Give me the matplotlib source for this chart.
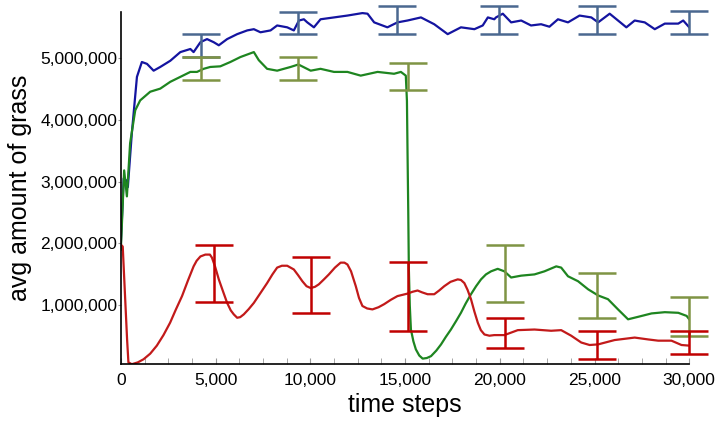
import matplotlib
matplotlib.use('Agg')
import matplotlib.pyplot as plt
from matplotlib.ticker import FuncFormatter, MultipleLocator

plt.rcParams['font.family'] = ['Liberation Sans', 'DejaVu Sans']

# blue run (values in millions)
blue_t = [0, 150, 280, 370, 580, 850, 1110, 1380, 1730, 2080, 2610, 3140, 3670, 3840,
          4200, 4550, 4900, 5170, 5610, 6140, 6670, 7020, 7370, 7900, 8250, 8780, 9130,
          9400, 9660, 9840, 10190, 10540, 11250, 11960, 12750, 13020, 13370, 14070,
          14600, 15130, 15840, 16540, 17250, 17950, 18660, 19100, 19370, 19710, 19800,
          20160, 20600, 21130, 21650, 22180, 22620, 23070, 23600, 24210, 24830, 25190,
          25800, 26240, 26680, 27120, 27650, 28180, 28710, 29420, 29680, 30000]
blue_v = [2.0, 3.05, 3.02, 2.91, 3.78, 4.69, 4.93, 4.90, 4.79, 4.85, 4.95, 5.09, 5.14, 5.09,
          5.25, 5.30, 5.25, 5.20, 5.30, 5.38, 5.44, 5.46, 5.41, 5.44, 5.52, 5.49, 5.44,
          5.60, 5.62, 5.57, 5.49, 5.62, 5.65, 5.68, 5.72, 5.71, 5.57, 5.49,
          5.57, 5.60, 5.65, 5.54, 5.38, 5.49, 5.46, 5.52, 5.65, 5.62, 5.65,
          5.71, 5.57, 5.60, 5.52, 5.54, 5.50, 5.62, 5.57, 5.68, 5.65, 5.57,
          5.71, 5.60, 5.49, 5.60, 5.57, 5.46, 5.55, 5.55, 5.60, 5.49]

# green run
green_t = [0, 175, 320, 490, 760, 1020, 1550, 2080, 2610, 3140, 3670, 4020, 4370, 4720,
           5250, 5780, 6310, 6840, 7020, 7280, 7720, 8250, 8960, 9370, 10020, 10540,
           11250, 11960, 12660, 13550, 14420, 14780, 15040, 15100, 15130, 15170, 15200,
           15250, 15310, 15440, 15570, 15750, 15930, 16150, 16370, 16650, 16900, 17150,
           17420, 17700, 17950, 18200, 18480, 18750, 19010, 19270, 19540, 19890, 20240,
           20600, 21130, 21830, 22360, 22980, 23240, 23600, 24130, 24660, 25190, 25710,
           26240, 26770, 27300, 28010, 28710, 29420, 29860, 30000]
green_v = [1.9, 3.18, 2.76, 3.62, 4.15, 4.31, 4.45, 4.50, 4.61, 4.69, 4.77, 4.77, 4.82, 4.85,
           4.86, 4.93, 5.01, 5.07, 5.09, 4.96, 4.82, 4.79, 4.85, 4.89, 4.79, 4.82,
           4.77, 4.77, 4.71, 4.77, 4.74, 4.77, 4.71, 4.3, 3.5, 2.5, 1.6,
           1.0, 0.61, 0.42, 0.29, 0.19, 0.14, 0.15, 0.18, 0.27, 0.37, 0.49,
           0.61, 0.75, 0.88, 1.03, 1.18, 1.31, 1.42, 1.50, 1.55, 1.59, 1.55,
           1.45, 1.48, 1.50, 1.55, 1.63, 1.61, 1.47, 1.39, 1.26, 1.16, 1.10,
           0.935, 0.775, 0.815, 0.87, 0.89, 0.88, 0.83, 0.775]

# red run
red_t = [0, 100, 230, 330, 400, 580, 900, 1200, 1550, 1900, 2250, 2600, 2900, 3230, 3540,
         3840, 4000, 4200, 4460, 4700, 4810, 4980, 5170, 5400, 5610, 5800, 5960, 6140,
         6300, 6490, 6750, 7020, 7370, 7720, 8000, 8250, 8500, 8780, 9130, 9350, 9580,
         9800, 10020, 10250, 10450, 10720, 10980, 11300, 11600, 11800, 11960, 12150,
         12400, 12570, 12750, 13000, 13280, 13600, 13900, 14250, 14600, 15130, 15400,
         15660, 15900, 16190, 16540, 16800, 17070, 17400, 17780, 17950, 18130, 18300,
         18480, 18660, 18840, 19000, 19190, 19450, 19710, 20240, 20950, 21830, 22710,
         23240, 23770, 24300, 24740, 25190, 26060, 27120, 27830, 28360, 29060, 29590, 30000]
red_v = [1.98, 1.95, 1.1, 0.45, 0.08, 0.05, 0.08, 0.13, 0.22, 0.35, 0.52, 0.72, 0.93, 1.15, 1.40,
         1.63, 1.72, 1.79, 1.82, 1.82, 1.77, 1.62, 1.42, 1.22, 1.04, 0.92, 0.855, 0.80,
         0.81, 0.855, 0.94, 1.04, 1.20, 1.36, 1.50, 1.61, 1.64, 1.64, 1.58, 1.49, 1.39,
         1.31, 1.28, 1.30, 1.34, 1.42, 1.50, 1.61, 1.69, 1.69, 1.66, 1.55,
         1.31, 1.12, 0.99, 0.95, 0.935, 0.97, 1.02, 1.09, 1.15, 1.19, 1.22,
         1.24, 1.21, 1.18, 1.18, 1.24, 1.31, 1.38, 1.42, 1.41, 1.36, 1.25,
         1.10, 0.90, 0.72, 0.60, 0.53, 0.51, 0.52, 0.52, 0.60, 0.61, 0.59,
         0.60, 0.51, 0.40, 0.36, 0.37, 0.44, 0.48, 0.45, 0.43, 0.43, 0.36, 0.35]

# error bars: position, low, high (millions)
blue_err_t = [4250, 9370, 14600, 19950, 25130, 30000]
blue_err_lo = [5.01, 5.38, 5.38, 5.38, 5.38, 5.38]
blue_err_hi = [5.38, 5.74, 5.84, 5.84, 5.84, 5.75]

green_err_t = [4250, 9370, 15130, 20300, 25130, 30000]
green_err_lo = [4.64, 4.64, 4.47, 1.05, 0.79, 0.51]
green_err_hi = [5.01, 5.01, 4.92, 1.98, 1.52, 1.14]

red_err_t = [4900, 10020, 15130, 20300, 25130, 30000]
red_err_lo = [1.05, 0.87, 0.59, 0.31, 0.13, 0.22]
red_err_hi = [1.98, 1.78, 1.70, 0.79, 0.59, 0.59]

M = 1e6

fig = plt.figure(figsize=(7.15, 4.23), dpi=100)
ax = fig.add_axes([0.169, 0.139, 0.795, 0.833])

runs = [
    (blue_t, blue_v, '#1414a0', blue_err_t, blue_err_lo, blue_err_hi, '#4a6890'),
    (green_t, green_v, '#1e8520', green_err_t, green_err_lo, green_err_hi, '#7f9444'),
    (red_t, red_v, '#c21a1a', red_err_t, red_err_lo, red_err_hi, '#c00000'),
]

for t, v, col, et, lo, hi, ecol in runs:
    ax.plot(t, [x * M for x in v], color=col, lw=1.6, zorder=2)

for t, v, col, et, lo, hi, ecol in runs:
    mid = [(a + b) / 2 * M for a, b in zip(lo, hi)]
    half = [(b - a) / 2 * M for a, b in zip(lo, hi)]
    eb = ax.errorbar(et, mid, yerr=half, fmt='none', ecolor=ecol, elinewidth=1.8,
                     capsize=14, capthick=1.8, zorder=3)
    for art in eb.lines[1] + eb.lines[2]:
        art.set_clip_on(False)

ax.set_xlim(0, 30000)
ax.set_ylim(0.05 * M, 5.74 * M)

for s in ['top', 'right']:
    ax.spines[s].set_visible(False)
ax.spines['left'].set_linewidth(1.2)
ax.spines['bottom'].set_linewidth(1.2)

fmt = FuncFormatter(lambda x, p: f'{int(x):,}')
ax.xaxis.set_major_formatter(fmt)
ax.yaxis.set_major_formatter(fmt)
ax.xaxis.set_major_locator(MultipleLocator(5000))
ax.xaxis.set_minor_locator(MultipleLocator(1250))
ax.yaxis.set_major_locator(MultipleLocator(1000000))

ax.tick_params(axis='x', which='both', direction='in', length=4, color='#999999',
               labelsize=12.5, pad=6)
ax.tick_params(axis='y', direction='out', length=2, color='#999999', labelsize=12.5, pad=0.5)

ax.set_xlabel('time steps', fontsize=18, labelpad=4)
ax.set_ylabel('avg amount of grass', fontsize=18, labelpad=6)

fig.savefig('out.png', dpi=100)
